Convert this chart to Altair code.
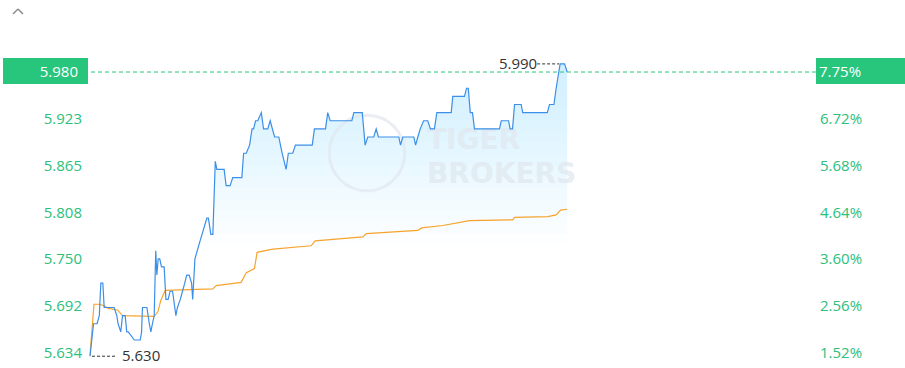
import altair as alt
import pandas as pd

# ---- data (minutes since open, price) ----
price_t = [0, 1.6, 3.2, 4.2, 4.9, 5.8, 6.4, 7.9, 10.9, 12.1, 12.7, 13.9, 14.7, 15.9, 16.6, 17.3,
           20.0, 22.7, 23.3, 23.7, 25.7, 26.8, 27.5, 28.2, 29.0, 29.7, 30.2, 30.8, 31.5, 32.3,
           33.5, 34.3, 35.3, 36.2, 37.3, 38.3, 38.8, 39.5, 40.8, 41.8, 42.8, 43.7, 44.8, 45.9,
           46.4, 47.4, 49.5, 52.8, 53.5, 54.6, 55.5, 56.6, 57.3, 60.6, 61.5, 63.3, 64.5, 68.6,
           69.4, 70.6, 72.1, 73.2, 73.9, 74.8, 75.8, 77.4, 78.4, 80.3, 81.4, 83.4, 85.3, 86.8,
           88.6, 89.6, 91.6, 92.8, 100.4, 101.4, 106.4, 107.4, 108.5, 118.3, 119.2, 123.0,
           124.3, 125.5, 128.2, 129.3, 130.3, 139.5, 140.3, 141.3, 146.3, 147.1, 148.1, 149.2,
           150.7, 152.6, 153.8, 155.6, 156.7, 163.2, 163.9, 169.2, 170.1, 170.9, 171.8, 172.8,
           173.7, 185.0, 185.8, 189.1, 189.8, 190.9, 191.8, 194.8, 195.5, 206.6, 207.6, 209.6,
           210.6, 211.8, 212.4, 214.4, 215.6]
price_v = [5.630, 5.67, 5.67, 5.68, 5.72, 5.72, 5.69, 5.69, 5.69, 5.68, 5.67, 5.66, 5.68, 5.68,
           5.66, 5.66, 5.65, 5.65, 5.66, 5.69, 5.69, 5.67, 5.66, 5.67, 5.68, 5.76, 5.73, 5.75,
           5.75, 5.74, 5.74, 5.70, 5.70, 5.71, 5.71, 5.69, 5.68, 5.69, 5.70, 5.71, 5.72, 5.73,
           5.73, 5.72, 5.70, 5.75, 5.77, 5.80, 5.80, 5.78, 5.78, 5.87, 5.86, 5.86, 5.84, 5.84,
           5.85, 5.85, 5.88, 5.88, 5.89, 5.91, 5.91, 5.92, 5.92, 5.93, 5.91, 5.91, 5.92, 5.90,
           5.90, 5.88, 5.86, 5.88, 5.88, 5.89, 5.89, 5.91, 5.91, 5.93, 5.92, 5.92, 5.93, 5.93,
           5.89, 5.90, 5.90, 5.91, 5.90, 5.90, 5.89, 5.90, 5.90, 5.89, 5.90, 5.91, 5.92, 5.92,
           5.91, 5.91, 5.93, 5.93, 5.95, 5.95, 5.96, 5.96, 5.93, 5.93, 5.91, 5.91, 5.92, 5.92,
           5.91, 5.91, 5.94, 5.94, 5.93, 5.93, 5.94, 5.94, 5.96, 5.98, 5.99, 5.99, 5.98]

avg_t = [0, 1.8, 4.3, 6.4, 8.2, 12.4, 14.7, 29.0, 30.7, 32.0, 34.0, 55.5, 57.0, 68.3, 70.6,
         74.3, 75.5, 82.6, 99.9, 101.7, 123.3, 124.8, 148.1, 149.9, 159.4, 171.5, 191.0, 191.8,
         206.8, 210.6, 212.6, 215.6]
avg_v = [5.631, 5.694, 5.694, 5.692, 5.689, 5.687, 5.680, 5.679, 5.685, 5.699, 5.711, 5.713,
         5.717, 5.721, 5.733, 5.738, 5.758, 5.762, 5.766, 5.772, 5.777, 5.781, 5.785, 5.788,
         5.791, 5.797, 5.798, 5.801, 5.802, 5.804, 5.810, 5.811]

grid_prices = [5.634, 5.6917, 5.7493, 5.807, 5.8647, 5.9223, 5.980, 6.0377]
left_labels = ["5.634", "5.692", "5.750", "5.808", "5.865", "5.923"]
right_labels = ["1.52%", "2.56%", "3.60%", "4.64%", "5.68%", "6.72%"]
last_price = 5.980
last_price_label = "5.980"
last_pct_label = "7.75%"
low_t, low_p, low_label = 0, 5.630, "5.630"
high_t, high_p, high_label = 212.4, 5.990, "5.990"
time_grid = [0, 60, 120, 180, 240, 300, 328]
# fill fades out from the top of the chart down to this price level
fade_levels = [5.767, 5.781, 5.795, 5.809, 5.823, 5.837, 5.851, 5.865,
               5.879, 5.893, 5.907, 5.921, 5.935, 5.949, 5.963, 5.977]

GREEN = "#28c57c"
LABEL_GREEN = "#2cc07c"
BLUE = "#3b8fe8"
ORANGE = "#f6a42e"
FONT = "Open Sans"

W, H = 726, 368
xs = alt.Scale(domain=[0, 328], nice=False, zero=False)
ys = alt.Scale(domain=[5.6155, 6.0687], nice=False, zero=False)

price_df = pd.DataFrame({"t": price_t, "p": price_v})
avg_df = pd.DataFrame({"t": avg_t, "p": avg_v})
one_df = pd.DataFrame({"k": [0]})
fill_df = pd.concat([price_df.assign(lev=l) for l in fade_levels], ignore_index=True)

# grid only (invisible mark carrying the axes)
grid = alt.Chart(price_df).mark_line(opacity=0).encode(
    x=alt.X("t:Q", scale=xs, axis=alt.Axis(values=time_grid, grid=True, gridColor="#ececec",
                                          labels=False, ticks=False, domain=False, title=None)),
    y=alt.Y("p:Q", scale=ys, axis=alt.Axis(values=grid_prices, grid=True, gridColor="#ececec",
                                          labels=False, ticks=False, domain=False, title=None)),
)

area = alt.Chart(fill_df).transform_calculate(
    b="min(datum.p, datum.lev)"
).mark_area(interpolate="linear", color="#8ccaf4", opacity=0.026).encode(
    x=alt.X("t:Q", scale=xs, axis=None),
    y=alt.Y("p:Q", scale=ys, axis=None),
    y2="b:Q",
    detail="lev:N",
)

wm_circle = alt.Chart(one_df).mark_point(
    shape="circle", size=5700, filled=False, stroke="#e2e8ee", strokeWidth=3, opacity=0.7
).encode(x=alt.value(277), y=alt.value(153))
wm = alt.Chart(one_df).mark_text(
    text=["TIGER", "BROKERS"], align="left", baseline="alphabetic", fontSize=28,
    font="DejaVu Sans", fontWeight="bold", color="#e0e7ee", opacity=0.7, lineHeight=34
).encode(x=alt.value(337), y=alt.value(149))

avg_line = alt.Chart(avg_df).mark_line(color=ORANGE, strokeWidth=1.2).encode(
    x=alt.X("t:Q", scale=xs, axis=None), y=alt.Y("p:Q", scale=ys, axis=None))
price_line = alt.Chart(price_df).mark_line(color=BLUE, strokeWidth=1.2).encode(
    x=alt.X("t:Q", scale=xs, axis=None), y=alt.Y("p:Q", scale=ys, axis=None))

last_df = pd.DataFrame({"p": [last_price], "lab": [last_price_label], "pct": [last_pct_label]})
dash = alt.Chart(last_df).mark_rule(color=GREEN, strokeDash=[4, 3], strokeWidth=1).encode(
    y=alt.Y("p:Q", scale=ys, axis=None))
box_l = alt.Chart(last_df).mark_rect(color=GREEN).encode(
    x=alt.value(-87), x2=alt.value(-2), y=alt.value(58), y2=alt.value(84))
box_r = alt.Chart(last_df).mark_rect(color=GREEN).encode(
    x=alt.value(726), x2=alt.value(815), y=alt.value(58), y2=alt.value(84))
box_l_txt = alt.Chart(last_df).mark_text(
    align="right", baseline="middle", color="white", fontSize=15, font=FONT
).encode(x=alt.value(-12), y=alt.Y("p:Q", scale=ys, axis=None), text="lab:N")
box_r_txt = alt.Chart(last_df).mark_text(
    align="left", baseline="middle", color="white", fontSize=15, font=FONT
).encode(x=alt.value(729), y=alt.Y("p:Q", scale=ys, axis=None), text="pct:N")

lab_df = pd.DataFrame({"p": grid_prices[:6], "l": left_labels, "r": right_labels})
left_txt = alt.Chart(lab_df).mark_text(
    align="right", baseline="middle", color=LABEL_GREEN, fontSize=15, font=FONT
).encode(x=alt.value(-8), y=alt.Y("p:Q", scale=ys, axis=None), text="l:N")
right_txt = alt.Chart(lab_df).mark_text(
    align="left", baseline="middle", color=LABEL_GREEN, fontSize=15, font=FONT
).encode(x=alt.value(730), y=alt.Y("p:Q", scale=ys, axis=None), text="r:N")

low_df = pd.DataFrame({"t": [low_t], "p": [low_p], "lab": [low_label]})
low_rule = alt.Chart(low_df).transform_calculate(
    t1="datum.t + 0.9", t2="datum.t + 11.7"
).mark_rule(color="#333333", strokeDash=[3, 2], strokeWidth=1).encode(
    x=alt.X("t1:Q", scale=xs, axis=None), x2="t2:Q", y=alt.Y("p:Q", scale=ys, axis=None))
low_txt = alt.Chart(low_df).mark_text(
    align="left", baseline="middle", color="#333333", fontSize=15, font=FONT, dx=32
).encode(x=alt.X("t:Q", scale=xs, axis=None), y=alt.Y("p:Q", scale=ys, axis=None), text="lab:N")

high_df = pd.DataFrame({"t": [high_t], "p": [high_p], "lab": [high_label]})
high_rule = alt.Chart(high_df).transform_calculate(
    t1="datum.t - 10.4", t2="datum.t - 0.5"
).mark_rule(color="#333333", strokeDash=[3, 2], strokeWidth=1).encode(
    x=alt.X("t1:Q", scale=xs, axis=None), x2="t2:Q", y=alt.Y("p:Q", scale=ys, axis=None))
high_txt = alt.Chart(high_df).mark_text(
    align="right", baseline="middle", color="#333333", fontSize=15, font=FONT, dx=-23
).encode(x=alt.X("t:Q", scale=xs, axis=None), y=alt.Y("p:Q", scale=ys, axis=None), text="lab:N")

caret1 = alt.Chart(one_df).mark_rule(color="#8a8a8a", strokeWidth=1.5).encode(
    x=alt.value(-77), y=alt.value(14), x2=alt.value(-72), y2=alt.value(9))
caret2 = alt.Chart(one_df).mark_rule(color="#8a8a8a", strokeWidth=1.5).encode(
    x=alt.value(-72), y=alt.value(9), x2=alt.value(-67), y2=alt.value(14))

chart = alt.layer(
    grid, area, wm_circle, wm, avg_line, price_line, dash,
    box_l, box_r, box_l_txt, box_r_txt, left_txt, right_txt,
    low_rule, low_txt, high_rule, high_txt, caret1, caret2
).properties(
    width=W, height=H,
    autosize=alt.AutoSizeParams(type="none"),
    padding={"left": 90, "right": 89, "top": 0, "bottom": 0},
    background="white",
).configure_view(strokeWidth=0)

chart.save("out.html", embed_options={"renderer": "svg", "actions": False})
